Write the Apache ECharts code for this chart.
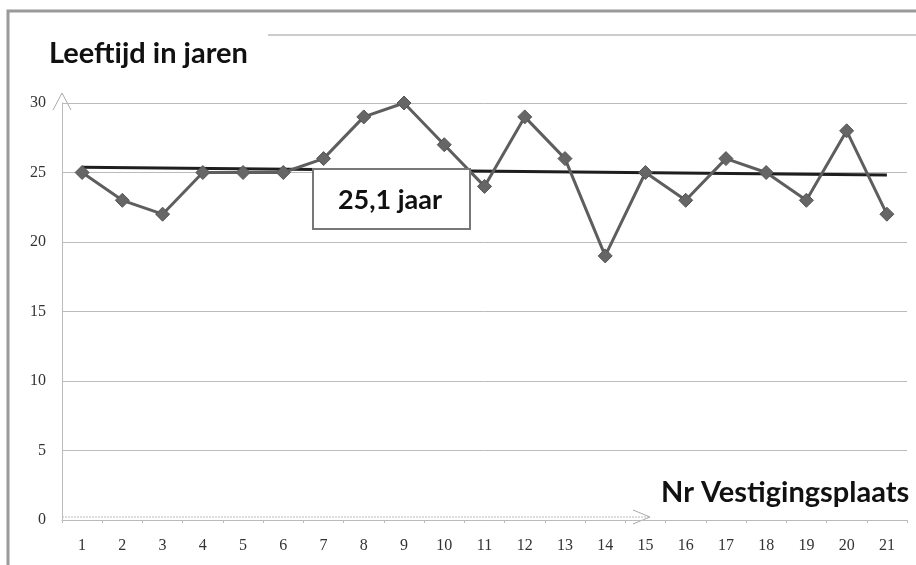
<!DOCTYPE html>
<html><head><meta charset="utf-8">
<script src="https://cdn.jsdelivr.net/npm/echarts@6/dist/echarts.min.js"></script>
<style>html,body{margin:0;padding:0;background:#fff}#c{width:916px;height:565px}</style>
</head><body><div id="c"></div>
<script>
const categories = ['1','2','3','4','5','6','7','8','9','10','11','12','13','14','15','16','17','18','19','20','21'];
const ages = [25,23,22,25,25,25,26,29,30,27,24,29,26,19,25,23,26,25,23,28,22];
const trendPoints = [[0,25.37],[20,24.82]];
const yTicks = {min:0, max:30, interval:5};
const yTitle = 'Leeftijd in jaren';
const xTitle = 'Nr Vestigingsplaats';
const meanLabel = '25,1 jaar';

const chart = echarts.init(document.getElementById('c'));
chart.setOption({
  animation:false,
  backgroundColor:'#fff',
  grid:{left:62, right:9, top:103, bottom:45},
  xAxis:{type:'category', data:categories, boundaryGap:true,
    axisLine:{show:true, lineStyle:{color:'#bbb', width:1}},
    axisTick:{show:true, length:3, lineStyle:{color:'#bbb'}},
    axisLabel:{color:'#333', fontFamily:'Liberation Serif', fontSize:16, margin:18}},
  yAxis:{type:'value', min:yTicks.min, max:yTicks.max, interval:yTicks.interval,
    axisLine:{show:true, lineStyle:{color:'#bbb'}},
    axisTick:{show:false},
    splitLine:{lineStyle:{color:'#bbb', width:1}},
    axisLabel:{color:'#333', fontFamily:'Liberation Serif', fontSize:16, margin:16}},
  series:[
    {type:'line', data:ages, symbol:'diamond', symbolSize:14,
      lineStyle:{color:'#5e5e5e', width:3}, itemStyle:{color:'#666', borderColor:'#555', borderWidth:1}, z:3},
    {type:'line', data:trendPoints, symbol:'none',
      lineStyle:{color:'#1e1e1e', width:3}, z:2}
  ],
  graphic:[
    {type:'rect', shape:{x:8, y:11, width:920, height:570}, style:{fill:'none', stroke:'#9a9a9a', lineWidth:3}, silent:true},
    {type:'line', shape:{x1:268, y1:35, x2:916, y2:35}, style:{stroke:'#999', lineWidth:1}},
    {type:'text', left:49, top:39, style:{text:yTitle, font:'bold 29px Lato', fill:'#111'}},
    {type:'text', left:661, top:478, style:{text:xTitle, font:'bold 29px Lato', fill:'#111'}},
    {type:'polyline', shape:{points:[[53,110],[62,93],[71,110]]}, style:{stroke:'#aaa', fill:'none', lineWidth:1}},
    {type:'line', shape:{x1:62, y1:517, x2:648, y2:517}, style:{stroke:'#bbb', lineWidth:1, lineDash:[2,1]}},
    {type:'polyline', shape:{points:[[633,510],[650,517],[633,524]]}, style:{stroke:'#aaa', fill:'none', lineWidth:1}},
    {type:'rect', shape:{x:313, y:169, width:157, height:60}, style:{fill:'#fff', stroke:'#777', lineWidth:2}, z:10},
    {type:'text', x:390, y:200, style:{text:meanLabel, font:'bold 27px Lato', fill:'#111', align:'center', verticalAlign:'middle'}, z:11}
  ]
});
</script></body></html>
